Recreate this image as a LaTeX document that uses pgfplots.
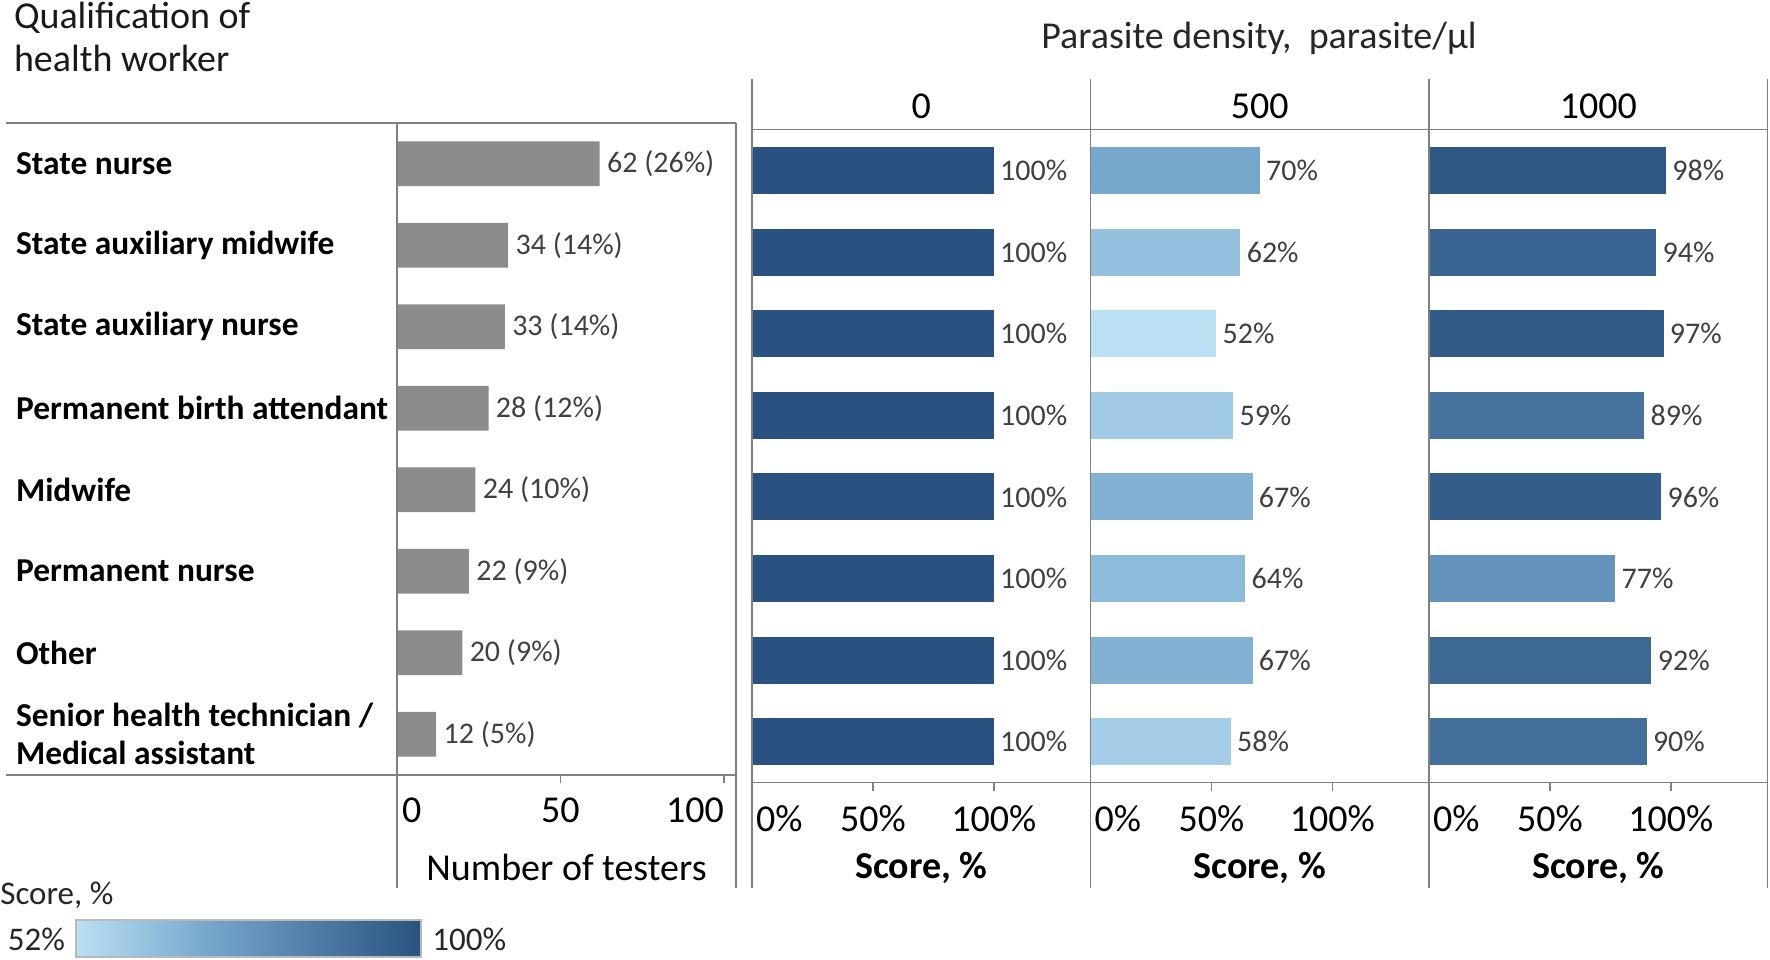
\documentclass[border=0pt]{standalone}
\usepackage{fontspec}
\setmainfont{Carlito}
\usepackage{pgfplots}
\pgfplotsset{compat=1.18}

\definecolor{clight}{RGB}{187,224,243}
\definecolor{cmid}{RGB}{118,168,206}
\definecolor{cdark}{RGB}{42,82,128}
\definecolor{barg}{RGB}{140,140,140}
\definecolor{linec}{RGB}{128,128,128}
\definecolor{valc}{RGB}{64,64,64}

\newcommand\ticfont{\fontsize{19}{22}\selectfont}
\newcommand\rowfont{\fontsize{16.7}{19}\selectfont\bfseries}
\newcommand\valfont{\fontsize{15}{18}\selectfont}
\newcommand\keyfont{\fontsize{16.5}{19}\selectfont}

\pgfdeclarehorizontalshading{scorebar}{100bp}{color(0bp)=(clight); color(25bp)=(clight);
  color(43.75bp)=(cmid); color(75bp)=(cdark); color(100bp)=(cdark)}

% one bar of a score panel, coloured by its value (52% light ... 100% dark)
\newcommand\scorebar[2]{%
  \ifdim #1pt<70pt
    \pgfmathsetmacro\pp{(#1-52)/18*100}\edef\cc{cmid!\pp!clight}%
  \else
    \pgfmathsetmacro\pp{(#1-70)/30*100}\edef\cc{cdark!\pp!cmid}%
  \fi
  \edef\temp{\noexpand\addplot[xbar, bar shift=0pt, draw=none, fill=\cc] coordinates {(#1,#2)};}%
  \temp
}

\pgfplotsset{
  base/.style={
    scale only axis, y dir=reverse, ymin=0.5, ymax=8.5,
    axis x line*=bottom, axis y line*=left,
    axis line style={draw=none},
    tick align=outside, major tick length=4pt,
    xtick style={linec, line width=0.7pt},
    ytick style={draw=none},
    xtick={0,50,100},
    xticklabel style={font=\ticfont, text=black, yshift=-4pt},
    /pgf/number format/assume math mode=true,
    clip=false,
    every axis x label/.style={at={(axis description cs:0.5,0)}, anchor=center},
    title style={at={(axis description cs:0.5,1)}, anchor=center, yshift=5.5pt, font=\ticfont},
    nodes near coords align={horizontal},
  },
  score/.style={
    base, width=169.25pt, height=326.5pt,
    xmin=0, xmax=140, ytick=\empty, bar width=0.576,
    xticklabels={\makebox[0pt][l]{\hspace{2pt}0\%},50\%,100\%},
    xlabel={Score, \%}, xlabel style={yshift=-42.5pt, font=\ticfont\bfseries},
    nodes near coords={\pgfmathprintnumber{\pgfplotspointmeta}\%},
    point meta=x,
    every node near coord/.append style={font=\valfont, text=valc, inner sep=3pt},
  }
}

\begin{document}
\begin{tikzpicture}[x=1pt,y=1pt]
\useasboundingbox (0,0) rectangle (885,-479.5);

% left panel: number of testers
\begin{axis}[base, at={(198.5pt,-387.5pt)}, anchor=south west,
  width=169.5pt, height=326pt, xmin=0, xmax=103.7, bar width=0.55,
  ytick={1,...,8},
  yticklabels={State nurse, State auxiliary midwife, State auxiliary nurse,
    Permanent birth attendant, Midwife, Permanent nurse, Other,
    {Senior health technician /\\Medical assistant}},
  yticklabel style={anchor=west, xshift=-190pt, align=left, font=\rowfont, text=black},
  xticklabels={\makebox[0pt][l]{\hspace{2.5pt}0},50,\makebox[0pt][r]{100}},
  xlabel={Number of testers}, xlabel style={yshift=-46pt, font=\ticfont},
  nodes near coords, point meta=explicit symbolic,
  every node near coord/.append style={font=\valfont, text=valc, inner sep=3.5pt, anchor=west},
]
\addplot[xbar, bar shift=0pt, fill=barg, draw=none] coordinates {
  (62,1) [62 (26\%)]
  (34,2) [34 (14\%)]
  (33,3) [33 (14\%)]
  (28,4) [28 (12\%)]
  (24,5) [24 (10\%)]
  (22,6) [22 (9\%)]
  (20,7) [20 (9\%)]
  (12,8) [12 (5\%)]
};
\end{axis}

% score panels by parasite density
\begin{axis}[score, at={(376pt,-391.3pt)}, anchor=south west, title={0}]
\scorebar{100}{1}\scorebar{100}{2}\scorebar{100}{3}\scorebar{100}{4}
\scorebar{100}{5}\scorebar{100}{6}\scorebar{100}{7}\scorebar{100}{8}
\end{axis}

\begin{axis}[score, at={(545.25pt,-391.3pt)}, anchor=south west, title={500}]
\scorebar{70}{1}\scorebar{62}{2}\scorebar{52}{3}\scorebar{59}{4}
\scorebar{67}{5}\scorebar{64}{6}\scorebar{67}{7}\scorebar{58}{8}
\end{axis}

\begin{axis}[score, at={(714.5pt,-391.3pt)}, anchor=south west, title={1000}]
\scorebar{98}{1}\scorebar{94}{2}\scorebar{97}{3}\scorebar{89}{4}
\scorebar{96}{5}\scorebar{77}{6}\scorebar{92}{7}\scorebar{90}{8}
\end{axis}

% frame lines
\begin{scope}[draw=linec, line width=0.7pt]
\draw (3,-61.5) -- (368,-61.5);
\draw (3,-387.5) -- (368,-387.5);
\draw (198.5,-61.5) -- (198.5,-444);
\draw (368,-61.5) -- (368,-444);
\draw (376,-64.8) -- (883.75,-64.8);
\draw (376,-391.3) -- (883.75,-391.3);
\foreach \xx in {376,545.25,714.5,883.75} \draw (\xx,-39.5) -- (\xx,-444);
\end{scope}

% titles
\node[anchor=west, font=\ticfont, text=black!90, inner sep=0] at (6.8,-9) {Qualification of};
\node[anchor=west, font=\ticfont, text=black!90, inner sep=0] at (6.8,-29) {health worker};
\node[font=\ticfont, text=black!85, inner sep=0] at (629.5,-19) {Parasite density,\ \ parasite/µl};

% colour key
\node[anchor=west, font=\keyfont, text=black!85, inner sep=0] at (0,-447.5) {Score, \%};
\shade[shading=scorebar, draw=gray!55, line width=0.6pt] (38,-460) rectangle (210.5,-478.5);
\node[anchor=east, font=\keyfont, text=black!85, inner sep=0] at (32.7,-469.5) {52\%};
\node[anchor=west, font=\keyfont, text=black!85, inner sep=0] at (216,-469.5) {100\%};
\end{tikzpicture}
\end{document}
